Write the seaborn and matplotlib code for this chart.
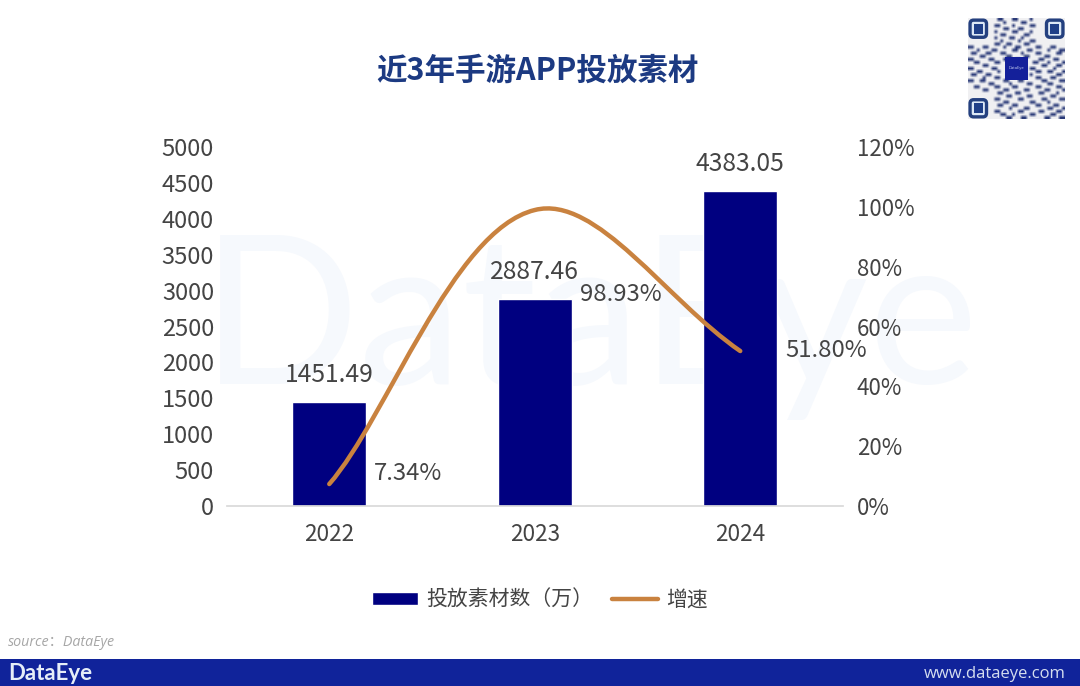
import numpy as np
import matplotlib
matplotlib.use("Agg")
import matplotlib.pyplot as plt
import seaborn as sns
from matplotlib.lines import Line2D
from matplotlib.patches import FancyBboxPatch, Patch, PathPatch, Rectangle
from matplotlib.path import Path

years = ["2022", "2023", "2024"]
counts = [1451.49, 2887.46, 4383.05]
growth = [7.34, 98.93, 51.80]
count_labels = ["1451.49", "2887.46", "4383.05"]
growth_labels = ["7.34%", "98.93%", "51.80%"]
left_ticks = [0, 500, 1000, 1500, 2000, 2500, 3000, 3500, 4000, 4500, 5000]
right_ticks = [0, 20, 40, 60, 80, 100, 120]

# hand-read qr modules, the finder squares are drawn over the corners
qr_rows = [
    "000000000011000110000100000000000",
    "000000000000100000110000000000000",
    "000000000110000100000110000000000",
    "000000000000110001100000000000000",
    "000000000100000110000100000000000",
    "000000000001100000011000000000000",
    "000000000100001100100000000000000",
    "000000000001000001000110000000000",
    "000000000110011000011000000000000",
    "110001100000100011000001100011000",
    "000100001100000110001100000100011",
    "011000110001100000100001100000110",
    "000011000000011000011000001100000",
    "110000011000100011000000110001100",
    "001100000110000000000011000100001",
    "000001100000000000000000011000110",
    "110000001100000000000110000001000",
    "000110000010000000000001100110001",
    "011000110000000000000100000000110",
    "000001000110000000000001100011000",
    "110011000000110001100000011000011",
    "000000011000001000001100000110000",
    "001100000110000110000001100000110",
    "000001100000110000011000001100001",
    "000000000011000011000000110000100",
    "000000000000011000001100000011000",
    "000000000110000001100000011000011",
    "000000000000110000000110000100000",
    "000000000011000110000001100001100",
    "000000000000001000011000000110001",
    "000000000110000001100000110000110",
    "000000000001100100000110000011000",
    "000000000000011000110000001100011",
]

sns.set_theme(style="white")
plt.rcParams["font.family"] = ["Noto Sans CJK SC", "DejaVu Sans"]

BAR = "#000080"
LINE = "#C9823F"
TEXT = "#444444"
W, H = 1080, 686

fig = plt.figure(figsize=(10.8, 6.86), dpi=100, facecolor="white")

# watermark behind everything
fig.text(590 / W, 1 - 325 / H, "DataEye", color="#F6F9FD", fontsize=150,
         family=["Lato"], ha="center", va="center", zorder=-1)

ax = fig.add_axes([226.5 / W, 1 - 506 / H, 616.5 / W, 359 / H])
ax.patch.set_visible(False)
sns.barplot(x=years, y=counts, color=BAR, width=0.36, saturation=1, ax=ax)
ax.set_xlim(-0.5, 2.5)
ax.set_ylim(0, 5000)
ax.set_yticks(left_ticks)
ax.tick_params(axis="y", length=0, labelsize=17, labelcolor=TEXT, pad=9)
ax.tick_params(axis="x", length=0, labelsize=16.3, labelcolor=TEXT, pad=12)
for s in ["top", "right", "left"]:
    ax.spines[s].set_visible(False)
ax.spines["bottom"].set_color("#D9D9D9")
ax.bar_label(ax.containers[0], labels=count_labels, padding=10, fontsize=17.8, color=TEXT)

ax2 = ax.twinx()
ax2.patch.set_visible(False)
ax2.set_ylim(0, 120)
ax2.set_yticks(right_ticks)
ax2.set_yticklabels([f"{v}%" for v in right_ticks])
ax2.tick_params(axis="y", length=0, labelsize=16, labelcolor=TEXT, pad=10)
for s in ["top", "right", "left", "bottom"]:
    ax2.spines[s].set_visible(False)
ax2.grid(False)
ax.grid(False)

# smoothed line like the office chart, bezier through the three growth values
slope = (growth[2] - growth[0]) / 2
verts = [
    (0, growth[0]),
    (0.28, growth[0] + (growth[1] - growth[0]) * 0.24),
    (1 - 0.4, growth[1] - slope * 0.3),
    (1, growth[1]),
    (1 + 0.3, growth[1] + slope * 0.24),
    (2 - 0.36, growth[2] + (growth[1] - growth[2]) * 0.36),
    (2, growth[2]),
]
codes = [Path.MOVETO] + [Path.CURVE4] * 6
ax2.add_patch(PathPatch(Path(verts, codes), fill=False, edgecolor=LINE, lw=3.2,
                        capstyle="round", zorder=5))

offsets = [(79, -11), (86, 84), (86, -1)]
for i, lab in enumerate(growth_labels):
    ax2.annotate(lab, (i, growth[i]), xytext=(offsets[i][0] * 0.72, -offsets[i][1] * 0.72),
                 textcoords="offset points", ha="center", va="center", fontsize=17.2,
                 color=TEXT, zorder=6)

handles = [Patch(facecolor=BAR, label="投放素材数（万）"),
           Line2D([], [], color=LINE, lw=3.2, label="增速")]
fig.legend(handles=handles, loc="center", bbox_to_anchor=(540 / W, 1 - 600 / H), ncol=2,
           frameon=False, handlelength=2.2, handleheight=0.6, handletextpad=0.4,
           columnspacing=0.9, prop={"size": 15}, labelcolor=TEXT)

fig.text(537 / W, 1 - 71 / H, "近3年手游APP投放素材", color="#1C3A82", fontsize=22,
         fontweight="bold", ha="center", va="center")

fig.text(8 / W, 1 - 642 / H, "source：DataEye", color="#A6A6A6", fontsize=10.3,
         style="italic", family=["Open Sans", "Noto Sans CJK SC"], va="center")

# footer band
fig.add_artist(Rectangle((0, 0), 1, 27 / H, transform=fig.transFigure, color="#10239A", lw=0))
fig.text(8 / W, 1 - 673 / H, "DataEye", color="#E6EEF8", fontsize=16, family=["Lato"],
         fontweight="bold", va="center")
fig.text(1066 / W, 1 - 674 / H, "www.dataeye.com", color="#D5DEEF", fontsize=12,
         family=["Open Sans"], ha="right", va="center")

# qr code top right
qr = fig.add_axes([968 / W, 1 - 119 / H, 97 / W, 101 / H])
grid = np.array([[int(c) for c in row] for row in qr_rows])
qr.imshow(grid, cmap=sns.light_palette("#2A3A78", as_cmap=True), interpolation="bilinear",
          extent=(0, 33, 33, 0), aspect="auto")
qr.set_axis_off()
for cx, cy in [(0, 0), (26, 0), (0, 26)]:
    qr.add_patch(FancyBboxPatch((cx + 0.7, cy + 0.7), 5.6, 5.6, boxstyle="round,pad=0,rounding_size=1.2",
                                fc="#DCE8F6", ec="#24407F", lw=2.4))
    qr.add_patch(Rectangle((cx + 1.9, cy + 1.9), 3.2, 3.2, color="#1F3F88", lw=0))
qr.add_patch(Rectangle((12.6, 12.6), 7.8, 7.8, color="#14209A", lw=0))
qr.text(16.5, 16.5, "DataEye", color="#C8D0F0", fontsize=3, ha="center", va="center",
        family=["Open Sans"])

fig.savefig("out.png", dpi=100)
